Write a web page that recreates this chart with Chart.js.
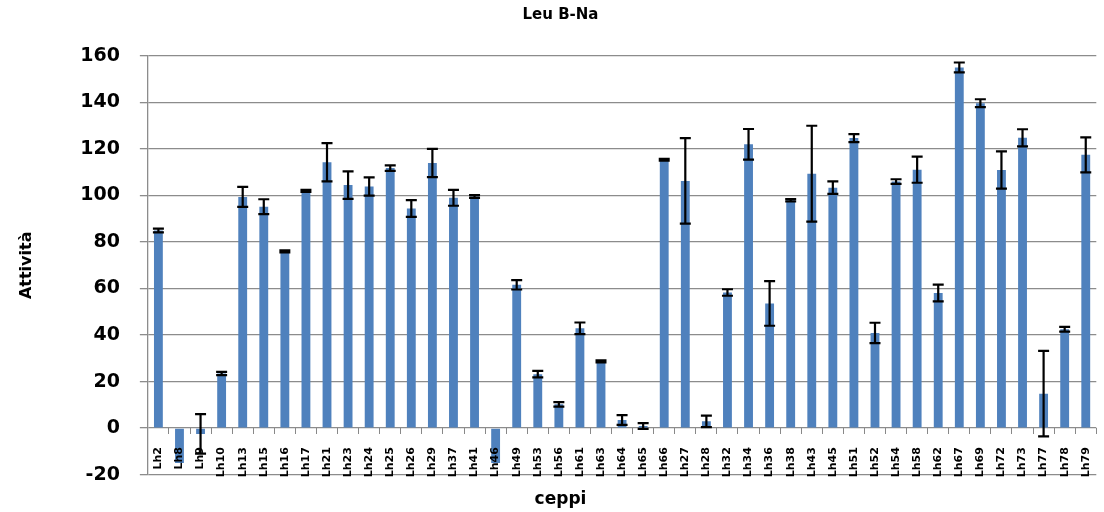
<!DOCTYPE html>
<html>
<head>
<meta charset="utf-8">
<script src="https://cdn.jsdelivr.net/npm/chart.js@4"></script>
<style>
  html, body { margin: 0; padding: 0; background: #fff; overflow: hidden; }
  #wrap { width: 1112px; height: 522px; }
</style>
</head>
<body>
<div id="wrap"><canvas id="myChart"></canvas></div>
<script>
const labels = ['Lh2', 'Lh8', 'Lh9', 'Lh10', 'Lh13', 'Lh15', 'Lh16', 'Lh17', 'Lh21', 'Lh23', 'Lh24', 'Lh25', 'Lh26', 'Lh29', 'Lh37',
    'Lh41', 'Lh46', 'Lh49', 'Lh53', 'Lh56', 'Lh61', 'Lh63', 'Lh64', 'Lh65', 'Lh66', 'Lh27', 'Lh28', 'Lh32', 'Lh34', 'Lh36',
    'Lh38', 'Lh43', 'Lh45', 'Lh51', 'Lh52', 'Lh54', 'Lh58', 'Lh62', 'Lh67', 'Lh69', 'Lh72', 'Lh73', 'Lh77', 'Lh78', 'Lh79'];
const attivita = [85, -15, -2.5, 23.5, 99.4, 95.2, 76, 102, 114.3, 104.5, 103.9, 111.8, 94.4, 114, 99,
    99.6, -15, 61.6, 23.2, 10.2, 42.9, 28.7, 3.5, 0.9, 115.4, 106.3, 2.9, 58.3, 122, 53.6,
    98, 109.4, 103.4, 124.7, 40.9, 106, 111.1, 58.1, 155.1, 139.7, 111, 124.8, 14.8, 42.5, 117.5];
const errori = [0.8, 0, 8.5, 0.7, 4.3, 3.2, 0.4, 0.4, 8.2, 5.9, 3.9, 1.2, 3.6, 6.1, 3.4,
    0.6, 0, 2, 1.4, 1, 2.5, 0.4, 2.1, 1.2, 0.4, 18.4, 2.5, 1.4, 6.6, 9.6,
    0.5, 20.6, 2.7, 1.7, 4.4, 1, 5.6, 3.6, 2.1, 1.7, 8, 3.7, 18.4, 1, 7.5];
const yTicks = [-20, 0, 20, 40, 60, 80, 100, 120, 140, 160];

const fontFam = "'DejaVu Sans', Arial, sans-serif";

// error bars drawn on top of the bars, using the y scale
const errorBars = {
    id: 'errorBars',
    afterDatasetsDraw(chart) {
        const ctx = chart.ctx;
        const y = chart.scales.y;
        const meta = chart.getDatasetMeta(0);
        ctx.save();
        ctx.strokeStyle = '#000';
        ctx.lineWidth = 2.2;
        meta.data.forEach((bar, i) => {
            const e = errori[i];
            if (!e) return;
            const top = y.getPixelForValue(attivita[i] + e);
            const bot = y.getPixelForValue(attivita[i] - e);
            const cx = bar.x;
            const half = 5.5;
            ctx.beginPath();
            ctx.moveTo(cx, top); ctx.lineTo(cx, bot);
            ctx.moveTo(cx - half, top); ctx.lineTo(cx + half, top);
            ctx.moveTo(cx - half, bot); ctx.lineTo(cx + half, bot);
            ctx.stroke();
        });
        ctx.restore();
    }
};

const canvas = document.getElementById('myChart').getContext('2d');
const data = {
    labels: labels,
    datasets: [{
        label: 'Leu B-Na',
        data: attivita,
        backgroundColor: '#4F81BD',
        borderWidth: 0,
        barPercentage: 0.42,
        categoryPercentage: 1.0
    }]
};
const config = {
    type: 'bar',
    data: data,
    plugins: [errorBars],
    options: {
        responsive: true,
        maintainAspectRatio: false,
        animation: false,
        layout: { padding: { top: 0, right: 4, left: 13, bottom: 0 } },
        plugins: {
            legend: { display: false },
            tooltip: { enabled: false },
            title: {
                display: true,
                text: 'Leu B-Na',
                color: '#000',
                font: { family: fontFam, size: 15, weight: 'bold' },
                padding: { top: 6, bottom: 32 }
            },
            subtitle: {
                display: true,
                position: 'bottom',
                text: 'ceppi',
                color: '#000',
                font: { family: fontFam, size: 17, weight: 'bold' },
                padding: { top: 15, bottom: 12 }
            }
        },
        scales: {
            x: {
                position: { y: 0 },
                grid: { drawOnChartArea: false, drawTicks: true, tickLength: 6, color: '#888', offset: true },
                border: { display: false },
                ticks: {
                    z: 1,
                    color: '#000',
                    minRotation: 90,
                    maxRotation: 90,
                    autoSkip: false,
                    padding: 13,
                    font: { family: fontFam, size: 11, weight: 'bold' }
                }
            },
            y: {
                min: -20,
                max: 160,
                afterBuildTicks: (axis) => { axis.ticks = yTicks.map(v => ({ value: v })); },
                title: {
                    display: true,
                    text: 'Attività',
                    color: '#000',
                    font: { family: fontFam, size: 16, weight: 'bold' },
                    padding: { top: 4, bottom: 24 }
                },
                grid: { color: '#8c8c8c', lineWidth: 1.3, tickLength: 8 },
                border: { color: '#8c8c8c', width: 1.3 },
                ticks: {
                    color: '#000',
                    padding: 20,
                    font: { family: fontFam, size: 19, weight: 'bold' }
                }
            }
        }
    }
};

new Chart(canvas, config);
</script>
</body>
</html>
